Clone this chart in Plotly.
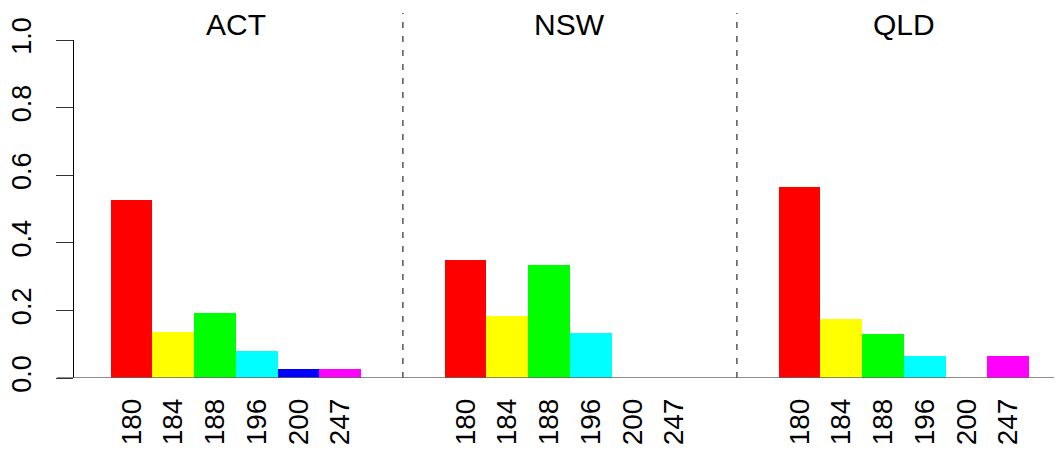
import plotly.graph_objects as go

# ---- data ----
regions = ["ACT", "NSW", "QLD"]
alleles = ["180", "184", "188", "196", "200", "247"]
act_freq = [0.527, 0.137, 0.193, 0.081, 0.027, 0.027]
nsw_freq = [0.350, 0.183, 0.334, 0.134, 0.0, 0.0]
qld_freq = [0.564, 0.175, 0.130, 0.065, 0.0, 0.065]
allele_colors = ["#FF0000", "#FFFF00", "#00FF00", "#00FFFF", "#0000FF", "#FF00FF"]
y_ticks = [0.0, 0.2, 0.4, 0.6, 0.8, 1.0]

freqs = [act_freq, nsw_freq, qld_freq]
n = len(alleles)
step = n + 2  # one empty slot each side of a group

xs, ys, cols, tickvals, ticktext = [], [], [], [], []
for p, vals in enumerate(freqs):
    base = p * step + 1
    for i, v in enumerate(vals):
        xs.append(base + i)
        ys.append(v)
        cols.append(allele_colors[i])
        tickvals.append(base + i)
        ticktext.append(alleles[i])

FONT = "Liberation Sans, Arial, sans-serif"

fig = go.Figure()
fig.add_trace(go.Bar(
    x=xs, y=ys, width=1.0,
    marker=dict(color=cols, line=dict(width=0)),
    showlegend=False, hoverinfo="x+y",
))

# page body has an 8px offset; compensate so plot area sits at the same pixels
OFF = 8
W, H = 1062 - OFF, 451 - OFF
ml, mr, mt, mb = 74 - OFF, 0, 40 - OFF, 73
plot_h = H - mt - mb
plot_w = W - ml - mr

shapes = []
# dashed separators between groups
for p in range(1, len(regions)):
    xsep = p * step - 0.5
    shapes.append(dict(type="line", xref="x", yref="paper",
                       x0=xsep, x1=xsep, y0=0, y1=1 + (40 - 13) / plot_h,
                       line=dict(color="#555555", width=1.5, dash="6px,8px")))
# baseline
shapes.append(dict(type="line", xref="paper", yref="y",
                   x0=(57 - 74) / plot_w, x1=(1060 - 74) / plot_w, y0=0, y1=0,
                   line=dict(color="#666666", width=1.5)))

annotations = []
for p, r in enumerate(regions):
    annotations.append(dict(text=r, xref="x", yref="paper",
                            x=p * step + 1 + (n - 1) / 2, y=1 + 15.5 / plot_h,
                            xanchor="center", yanchor="middle", showarrow=False,
                            font=dict(family=FONT, size=30, color="black")))

fig.update_layout(
    width=W, height=H,
    margin=dict(l=ml, r=mr, t=mt, b=mb, pad=0),
    paper_bgcolor="white", plot_bgcolor="white",
    bargap=0,
    shapes=shapes, annotations=annotations,
    font=dict(family=FONT, color="black"),
    xaxis=dict(range=[-0.377, 23.287], showgrid=False, zeroline=False,
               showline=False, ticks="", tickmode="array",
               tickvals=tickvals, ticktext=ticktext, tickangle=-90,
               tickfont=dict(family=FONT, size=28, color="black"),
               ticklabelstandoff=14),
    yaxis=dict(range=[0, 1], showgrid=False, zeroline=False,
               showline=True, linecolor="black", linewidth=1,
               ticks="outside", ticklen=17, tickwidth=1, tickcolor="#333333",
               tickmode="array", tickvals=y_ticks,
               ticktext=[f"{v:.1f}" for v in y_ticks], tickangle=-90,
               tickfont=dict(family=FONT, size=27, color="black"),
               ticklabelstandoff=14),
)

fig.write_html("out.html")
